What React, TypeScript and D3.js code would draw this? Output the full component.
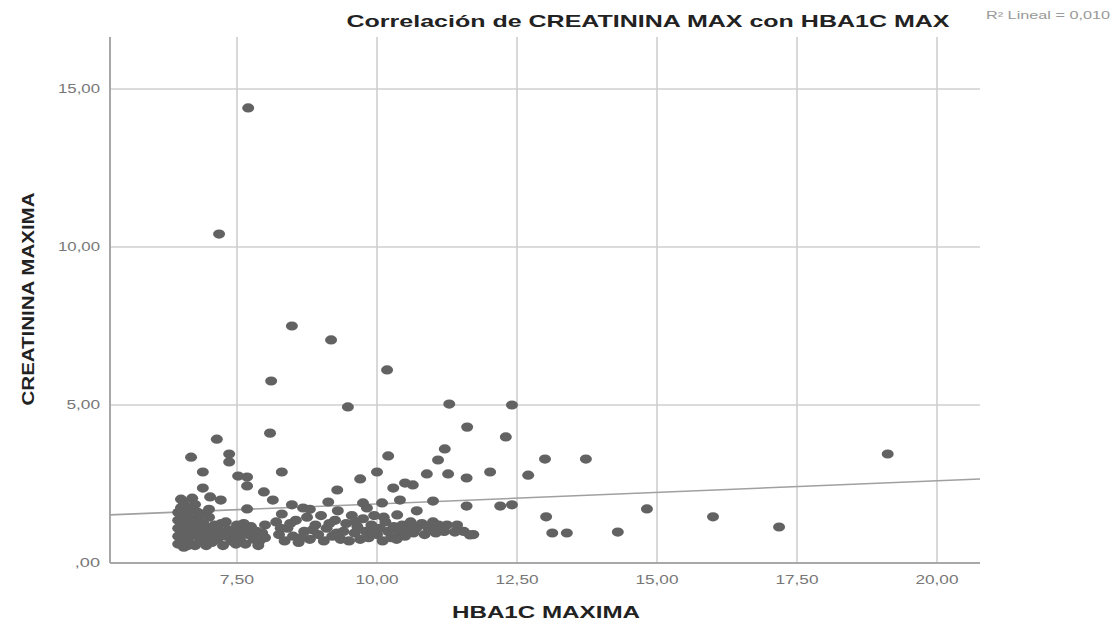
import { useRef, useEffect } from 'react';
import * as d3 from 'd3';

// tick values
const xTicks = [7.5, 10, 12.5, 15, 17.5, 20];
const yTicks = [0, 5, 10, 15];

// fit line reported by SPSS (R² Lineal = 0,010)
const fitIntercept = 1.14;
const fitSlope = 0.073;
const r2Label = "R² Lineal = 0,010";

// [HBA1C MAXIMA, CREATININA MAXIMA]
const outlierPoints: [number, number][] = [
  [7.70, 14.40], [7.18, 10.41], [8.48, 7.50], [9.18, 7.06], [10.18, 6.11], [8.11, 5.76],
  [9.48, 4.94], [11.29, 5.03], [12.41, 5.00], [11.61, 4.30], [12.30, 3.99], [8.09, 4.11],
  [7.14, 3.92], [19.12, 3.45], [13.00, 3.29], [13.73, 3.29], [14.82, 1.71], [16.00, 1.46],
  [17.18, 1.14], [14.30, 0.98], [13.02, 1.46], [13.13, 0.95], [13.39, 0.95], [12.70, 2.78],
];

const upperPoints: [number, number][] = [
  [6.68, 3.35], [7.36, 3.45], [7.36, 3.20], [6.89, 2.88], [7.52, 2.75], [7.68, 2.72],
  [7.68, 2.44], [6.89, 2.37], [7.02, 2.09], [7.21, 1.99], [6.50, 2.02], [6.70, 2.05],
  [7.68, 1.71], [7.98, 2.25], [8.14, 1.99], [8.30, 2.88], [8.48, 1.84], [8.68, 1.74],
  [9.13, 1.93], [9.29, 2.31], [9.70, 2.66], [10.00, 2.88], [10.20, 3.39], [10.29, 2.37],
  [10.50, 2.53], [10.64, 2.47], [10.41, 1.99], [10.09, 1.90], [11.00, 1.96], [10.71, 1.65],
  [9.82, 1.74], [10.36, 1.52], [11.09, 3.26], [11.21, 3.61], [10.89, 2.82], [11.27, 2.82],
  [11.60, 2.69], [12.02, 2.88], [11.60, 1.80], [12.20, 1.80], [12.41, 1.84], [9.75, 1.90],
  [8.80, 1.70], [6.55, 1.90], [6.60, 1.75], [6.75, 1.85], [7.00, 1.70], [6.80, 1.60],
];

const clusterPoints: [number, number][] = [
  [6.45, 0.60], [6.45, 0.85], [6.45, 1.10], [6.45, 1.35], [6.45, 1.60], [6.50, 0.70],
  [6.50, 1.00], [6.50, 1.25], [6.50, 1.50], [6.50, 1.75], [6.55, 0.50], [6.60, 0.80],
  [6.60, 1.05], [6.60, 1.30], [6.60, 1.55], [6.65, 0.65], [6.70, 0.90], [6.70, 1.15],
  [6.70, 1.40], [6.70, 1.70], [6.75, 0.55], [6.80, 0.85], [6.80, 1.10], [6.80, 1.35],
  [6.85, 0.70], [6.90, 1.00], [6.90, 1.25], [6.90, 1.55], [6.95, 0.55], [7.00, 0.80],
  [7.00, 1.10], [7.00, 1.45], [7.05, 0.65], [7.10, 0.95], [7.10, 1.20], [7.15, 0.75],
  [7.20, 1.00], [7.25, 0.55], [7.30, 0.85], [7.30, 1.30], [7.35, 1.05], [7.40, 0.70],
  [7.45, 0.95], [7.50, 1.20], [7.55, 0.75], [7.60, 1.00], [7.65, 0.60], [7.70, 0.90],
  [7.75, 1.15], [7.80, 0.75], [7.85, 1.00], [7.90, 0.70], [7.95, 0.95], [8.00, 1.20],
  [8.00, 0.80], [8.20, 1.30], [8.25, 0.90], [8.30, 1.55], [8.35, 0.70], [8.40, 1.10],
  [8.50, 0.85], [8.55, 1.35], [8.60, 0.65], [8.70, 1.00], [8.75, 1.45], [8.80, 0.75],
  [8.90, 1.20], [8.95, 0.90], [9.00, 1.50], [9.05, 0.70], [9.10, 1.10], [9.20, 0.85],
  [9.25, 1.35], [9.30, 1.65], [9.35, 0.75], [9.40, 1.00], [9.45, 1.25], [9.50, 0.70],
  [9.55, 1.50], [9.60, 0.95], [9.65, 1.15], [9.70, 0.75], [9.75, 1.40], [9.80, 1.00],
  [9.85, 0.80], [9.90, 1.20], [9.95, 1.50], [10.00, 0.90], [10.05, 1.10], [10.10, 0.70],
  [10.15, 1.30], [10.20, 1.00], [10.25, 0.80], [10.30, 1.15], [10.40, 0.95], [10.45, 1.20],
  [10.50, 0.85], [10.55, 1.10], [10.60, 1.30], [10.65, 0.95], [10.70, 1.10], [10.80, 1.25],
  [10.85, 0.90], [10.90, 1.15], [11.00, 1.30], [11.05, 0.95], [11.10, 1.20], [11.20, 1.00],
  [11.25, 1.20], [11.43, 1.20], [11.39, 0.98], [11.55, 1.00], [11.66, 0.89], [11.72, 0.90],
  [8.28, 1.10], [8.45, 1.25], [8.65, 0.80], [8.85, 1.05], [9.15, 1.25], [9.28, 0.95],
  [9.62, 1.30], [9.92, 0.95], [10.12, 1.45], [10.35, 0.75], [10.62, 1.05], [10.95, 1.05],
  [7.05, 0.90], [7.22, 1.25], [7.48, 0.60], [7.62, 1.25], [7.88, 0.55], [6.62, 0.55],
];

const width = 1116;
const height = 627;

const ScatterChart = () => {
  const ref = useRef<SVGSVGElement>(null);

  useEffect(() => {
    const svg = d3.select(ref.current);
    svg.selectAll("*").remove();

    const x = d3.scaleLinear().domain([5.232, 20.768]).range([110, 980]);
    const y = d3.scaleLinear().domain([0, 16.646]).range([563, 37]);

    const locale = d3.formatLocale({ decimal: ",", thousands: ".", grouping: [3], currency: ["", ""] });
    const fmt = (v: number) => locale.format(".2f")(v).replace(/^0,/, ",");

    const font = "Arial, 'Liberation Sans', sans-serif";

    // gridlines
    const grid = svg.append("g").attr("stroke", "#cfcfcf").attr("stroke-width", 1.6);
    grid.selectAll("line.v")
      .data(xTicks)
      .join("line")
      .attr("x1", d => x(d)).attr("x2", d => x(d))
      .attr("y1", y.range()[1]).attr("y2", y.range()[0]);
    grid.selectAll("line.h")
      .data(yTicks.filter(d => d > 0))
      .join("line")
      .attr("class", "h")
      .attr("x1", x.range()[0]).attr("x2", x.range()[1])
      .attr("y1", d => y(d)).attr("y2", d => y(d));

    // axis lines
    svg.append("line")
      .attr("x1", x.range()[0]).attr("x2", x.range()[0])
      .attr("y1", y.range()[1]).attr("y2", y.range()[0])
      .attr("stroke", "#a8a8a8").attr("stroke-width", 2);
    svg.append("line")
      .attr("x1", x.range()[0]).attr("x2", x.range()[1])
      .attr("y1", y.range()[0]).attr("y2", y.range()[0])
      .attr("stroke", "#a8a8a8").attr("stroke-width", 2);

    // tick labels
    svg.append("g")
      .selectAll("text")
      .data(xTicks)
      .join("text")
      .attr("x", d => x(d))
      .attr("y", 584)
      .attr("text-anchor", "middle")
      .attr("font-family", font)
      .attr("font-size", 12)
      .attr("fill", "#777")
      .attr("textLength", d => fmt(d).length * 8.6)
      .attr("lengthAdjust", "spacingAndGlyphs")
      .text(d => fmt(d));

    svg.append("g")
      .selectAll("text")
      .data(yTicks)
      .join("text")
      .attr("x", 100)
      .attr("y", d => y(d) + 4)
      .attr("text-anchor", "end")
      .attr("font-family", font)
      .attr("font-size", 12)
      .attr("fill", "#777")
      .attr("textLength", d => fmt(d).length * 8.4)
      .attr("lengthAdjust", "spacingAndGlyphs")
      .text(d => fmt(d));

    // fit line
    const xd = x.domain();
    svg.append("line")
      .attr("x1", x(xd[0])).attr("y1", y(fitIntercept + fitSlope * xd[0]))
      .attr("x2", x(xd[1])).attr("y2", y(fitIntercept + fitSlope * xd[1]))
      .attr("stroke", "#a0a0a0")
      .attr("stroke-width", 1.6);

    // points
    const allPoints = [...clusterPoints, ...upperPoints, ...outlierPoints];
    svg.append("g")
      .selectAll("ellipse")
      .data(allPoints)
      .join("ellipse")
      .attr("cx", d => x(d[0]))
      .attr("cy", d => y(d[1]))
      .attr("rx", 6)
      .attr("ry", 4.6)
      .attr("fill", "#626262");

    // titles
    svg.append("text")
      .attr("x", 648).attr("y", 27)
      .attr("text-anchor", "middle")
      .attr("font-family", font)
      .attr("font-weight", "bold")
      .attr("font-size", 17)
      .attr("fill", "#222")
      .attr("textLength", 603)
      .attr("lengthAdjust", "spacingAndGlyphs")
      .text("Correlación de CREATININA MAX con HBA1C MAX");

    svg.append("text")
      .attr("x", 1110).attr("y", 19)
      .attr("text-anchor", "end")
      .attr("font-family", font)
      .attr("font-size", 10)
      .attr("fill", "#999")
      .attr("textLength", 124)
      .attr("lengthAdjust", "spacingAndGlyphs")
      .text(r2Label);

    svg.append("text")
      .attr("x", 546).attr("y", 618)
      .attr("text-anchor", "middle")
      .attr("font-family", font)
      .attr("font-weight", "bold")
      .attr("font-size", 16)
      .attr("fill", "#222")
      .attr("textLength", 188)
      .attr("lengthAdjust", "spacingAndGlyphs")
      .text("HBA1C MAXIMA");

    svg.append("text")
      .attr("transform", `translate(34,299) rotate(-90)`)
      .attr("text-anchor", "middle")
      .attr("font-family", font)
      .attr("font-weight", "bold")
      .attr("font-size", 16)
      .attr("fill", "#222")
      .attr("textLength", 213)
      .attr("lengthAdjust", "spacingAndGlyphs")
      .text("CREATININA MAXIMA");
  }, []);

  return (
    <svg
      ref={ref}
      width={width}
      height={height}
      style={{ position: "absolute", left: 0, top: 0, background: "#fff" }}
    />
  );
};

export default function App() {
  return <ScatterChart />;
}
